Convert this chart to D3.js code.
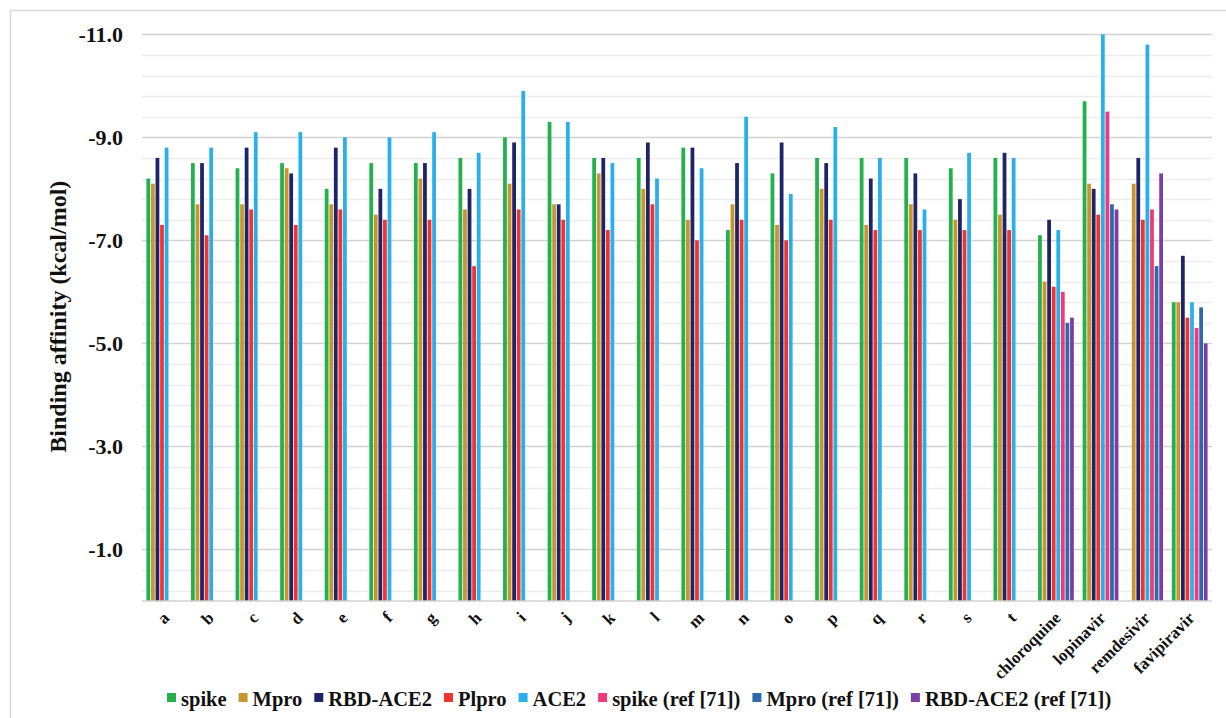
<!DOCTYPE html>
<html lang="en">
<head>
    <meta charset="UTF-8">
    <title>Binding affinity</title>
    <script src="https://d3js.org/d3.v7.min.js"></script>
    <style>
        html, body {
            margin: 0;
            background: #fff;
        }
        text {
            font-family: "Liberation Serif", "Times New Roman", serif;
            font-weight: bold;
            fill: #111;
        }
    </style>
</head>
<body>
<div class="chart"></div>

<script>

    var categories = ["a", "b", "c", "d", "e", "f", "g", "h", "i", "j", "k", "l", "m", "n", "o", "p", "q", "r", "s", "t",
        "chloroquine", "lopinavir", "remdesivir", "favipiravir"];

    var seriesNames = ["spike", "Mpro", "RBD-ACE2", "Plpro", "ACE2", "spike (ref [71])", "Mpro (ref [71])", "RBD-ACE2 (ref [71])"];
    var seriesColors = ["#22b14c", "#c8962e", "#1f2468", "#ee3530", "#29b0ea", "#ee3a7a", "#2e6aa8", "#7a3fa6"];

    var spike = [-8.2, -8.5, -8.4, -8.5, -8.0, -8.5, -8.5, -8.6, -9.0, -9.3, -8.6, -8.6, -8.8, -7.2, -8.3, -8.6, -8.6, -8.6, -8.4, -8.6,
        -7.1, -9.7, null, -5.8];
    var mpro = [-8.1, -7.7, -7.7, -8.4, -7.7, -7.5, -8.2, -7.6, -8.1, -7.7, -8.3, -8.0, -7.4, -7.7, -7.3, -8.0, -7.3, -7.7, -7.4, -7.5,
        -6.2, -8.1, -8.1, -5.8];
    var rbdAce2 = [-8.6, -8.5, -8.8, -8.3, -8.8, -8.0, -8.5, -8.0, -8.9, -7.7, -8.6, -8.9, -8.8, -8.5, -8.9, -8.5, -8.2, -8.3, -7.8, -8.7,
        -7.4, -8.0, -8.6, -6.7];
    var plpro = [-7.3, -7.1, -7.6, -7.3, -7.6, -7.4, -7.4, -6.5, -7.6, -7.4, -7.2, -7.7, -7.0, -7.4, -7.0, -7.4, -7.2, -7.2, -7.2, -7.2,
        -6.1, -7.5, -7.4, -5.5];
    var ace2 = [-8.8, -8.8, -9.1, -9.1, -9.0, -9.0, -9.1, -8.7, -9.9, -9.3, -8.5, -8.2, -8.4, -9.4, -7.9, -9.2, -8.6, -7.6, -8.7, -8.6,
        -7.2, -11.0, -10.8, -5.8];
    var spikeRef = [null, null, null, null, null, null, null, null, null, null, null, null, null, null, null, null, null, null, null, null,
        -6.0, -9.5, -7.6, -5.3];
    var mproRef = [null, null, null, null, null, null, null, null, null, null, null, null, null, null, null, null, null, null, null, null,
        -5.4, -7.7, -6.5, -5.7];
    var rbdRef = [null, null, null, null, null, null, null, null, null, null, null, null, null, null, null, null, null, null, null, null,
        -5.5, -7.6, -8.3, -5.0];

    var yTicks = [-11, -9, -7, -5, -3, -1];

    var allSeries = [spike, mpro, rbdAce2, plpro, ace2, spikeRef, mproRef, rbdRef];

    var width = 1226;
    var height = 718;
    var plot = {left: 142, right: 1212, top: 34.3, bottom: 601};

    var svg = d3.select('.chart').append('svg').attr('width', width).attr('height', height);

    // outer frame
    svg.append('rect')
        .attr('x', 10.5).attr('y', 10.5)
        .attr('width', 1240).attr('height', 740)
        .attr('fill', 'none').attr('stroke', '#d9d9d9').attr('stroke-width', 1.5);

    var y = d3.scaleLinear()
        .domain([0, -11])
        .range([plot.bottom, plot.top]);

    var x0 = d3.scaleBand()
        .domain(categories)
        .range([plot.left, plot.right])
        .paddingInner(0.18)
        .paddingOuter(0.09);

    var x1 = d3.scaleBand()
        .domain(d3.range(seriesNames.length))
        .range([0, x0.bandwidth()]);

    // gridlines, minor every 0.4, major every 2
    var minor = d3.range(0, 28).map(function (i) { return -11 + i * 0.4; });
    svg.append('g').selectAll('line')
        .data(minor)
        .enter().append('line')
        .attr('x1', plot.left).attr('x2', plot.right)
        .attr('y1', function (d) { return Math.round(y(d)) + 0.5; })
        .attr('y2', function (d) { return Math.round(y(d)) + 0.5; })
        .attr('stroke', function (d, i) { return i % 5 === 0 ? '#d2d2d2' : '#ececec'; })
        .attr('stroke-width', 1.3);

    // bars
    var rows = [];
    categories.forEach(function (c, ci) {
        allSeries.forEach(function (s, si) {
            if (s[ci] !== null) rows.push({cat: c, s: si, v: s[ci]});
        });
    });

    svg.append('g').selectAll('rect')
        .data(rows)
        .enter().append('rect')
        .attr('x', function (d) { return x0(d.cat) + x1(d.s) + 0.4; })
        .attr('width', x1.bandwidth() - 0.8)
        .attr('y', function (d) { return y(d.v); })
        .attr('height', function (d) { return y(0) - y(d.v); })
        .attr('fill', function (d) { return seriesColors[d.s]; });

    // x axis line
    svg.append('line')
        .attr('x1', plot.left).attr('x2', plot.right)
        .attr('y1', plot.bottom).attr('y2', plot.bottom)
        .attr('stroke', '#d0d0d0').attr('stroke-width', 1.5);

    // y axis labels
    var yAxis = d3.axisLeft(y)
        .tickValues(yTicks)
        .tickSize(0)
        .tickPadding(0)
        .tickFormat(function (d) { return d.toFixed(1); });
    var yg = svg.append('g')
        .attr('transform', 'translate(123,0)')
        .call(yAxis);
    yg.select('.domain').remove();
    yg.selectAll('text')
        .style('font-size', '22px')
        .style('font-family', '"Liberation Serif", serif')
        .style('font-weight', 'bold')
        .attr('fill', '#111');

    // x axis labels
    var xAxis = d3.axisBottom(x0).tickSize(0).tickPadding(0);
    var xg = svg.append('g')
        .attr('transform', 'translate(0,' + plot.bottom + ')')
        .call(xAxis);
    xg.select('.domain').remove();
    xg.selectAll('text')
        .attr('y', 0).attr('dy', 0)
        .attr('text-anchor', 'end')
        .attr('transform', 'translate(6,18) rotate(-45)')
        .style('font-size', '17px')
        .style('font-family', '"Liberation Serif", serif')
        .style('font-weight', 'bold')
        .attr('fill', '#111');

    // y title
    svg.append('text')
        .attr('transform', 'translate(66,' + ((plot.top + plot.bottom) / 2 - 1) + ') rotate(-90)')
        .attr('text-anchor', 'middle')
        .style('font-size', '24px')
        .text('Binding affinity (kcal/mol)');

    // legend
    var legend = svg.append('g').attr('transform', 'translate(0,706)');
    var lx = 167;
    seriesNames.forEach(function (name, i) {
        legend.append('rect')
            .attr('x', lx).attr('y', -13)
            .attr('width', 9).attr('height', 9)
            .attr('fill', seriesColors[i]);
        var t = legend.append('text')
            .attr('x', lx + 14)
            .style('font-size', '20.5px')
            .text(name);
        lx = lx + 14 + t.node().getComputedTextLength() + 12;
    });

</script>
</body>
</html>
